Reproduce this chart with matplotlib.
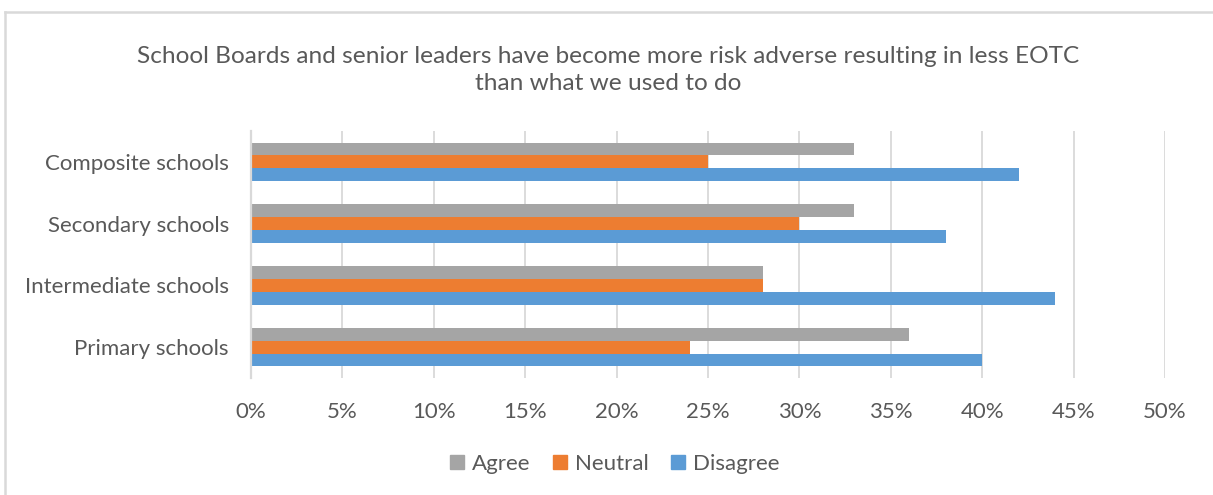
import matplotlib.pyplot as plt
from matplotlib.lines import Line2D
from matplotlib.ticker import FuncFormatter, MultipleLocator

# Data (percent), categories listed bottom-to-top as drawn
categories = ["Primary schools", "Intermediate schools", "Secondary schools", "Composite schools"]
agree = [36, 28, 33, 33]
neutral = [24, 28, 30, 25]
disagree = [40, 44, 38, 42]
series_names = ["Agree", "Neutral", "Disagree"]

TITLE = ("School Boards and senior leaders have become more risk adverse resulting in less EOTC\n"
         "than what we used to do")
COLORS = {"Agree": "#A5A5A5", "Neutral": "#ED7D31", "Disagree": "#5B9BD5"}
TEXT = "#595959"
GRID = "#D9D9D9"

plt.rcParams["font.family"] = ["Lato", "DejaVu Sans"]

fig = plt.figure(figsize=(12.13, 4.95), dpi=100)
ax = fig.add_axes([251 / 1213, 1 - 378 / 495, 914 / 1213, 247 / 495])

h = 0.208
ys = range(len(categories))
for vals, name, off in [(disagree, "Disagree", -h), (neutral, "Neutral", 0), (agree, "Agree", h)]:
    ax.barh([y + off for y in ys], vals, height=h, color=COLORS[name], label=name, zorder=3)

ax.set_xlim(0, 50)
ax.set_ylim(-0.5, len(categories) - 0.5)
ax.xaxis.set_major_locator(MultipleLocator(5))
ax.xaxis.set_major_formatter(FuncFormatter(lambda v, _: f"{v:.0f}%"))
ax.set_yticks(list(ys))
ax.set_yticklabels(categories)
ax.grid(axis="x", color=GRID, linewidth=1.3, zorder=0)
for s in ["top", "right", "bottom"]:
    ax.spines[s].set_visible(False)
ax.spines["left"].set_color(GRID)
ax.spines["left"].set_linewidth(1.6)
ax.spines["left"].set_zorder(4)
ax.tick_params(axis="both", length=0, labelsize=16, colors=TEXT)
ax.tick_params(axis="y", pad=16)
ax.tick_params(axis="x", pad=17)

fig.text(0.501, 1 - 70 / 495, TITLE, ha="center", va="center", fontsize=17.6,
         color=TEXT, linespacing=1.3)

handles = [Line2D([], [], marker="s", linestyle="none", markersize=10,
                  color=COLORS[n], label=n) for n in series_names]
fig.legend(handles=handles, loc="center", bbox_to_anchor=(0.506, 1 - 464 / 495), ncol=3,
           frameon=False, fontsize=16, handlelength=0.8, handletextpad=0.3,
           columnspacing=0.9, labelcolor=TEXT)

# outer chart frame (left and top edges visible)
fig.add_artist(Line2D([5 / 1213, 5 / 1213], [0, 1 - 12 / 495], transform=fig.transFigure,
                      color=GRID, linewidth=1.8))
fig.add_artist(Line2D([5 / 1213, 1], [1 - 12 / 495, 1 - 12 / 495], transform=fig.transFigure,
                      color=GRID, linewidth=1.8))

fig.savefig("out.png", dpi=100)
